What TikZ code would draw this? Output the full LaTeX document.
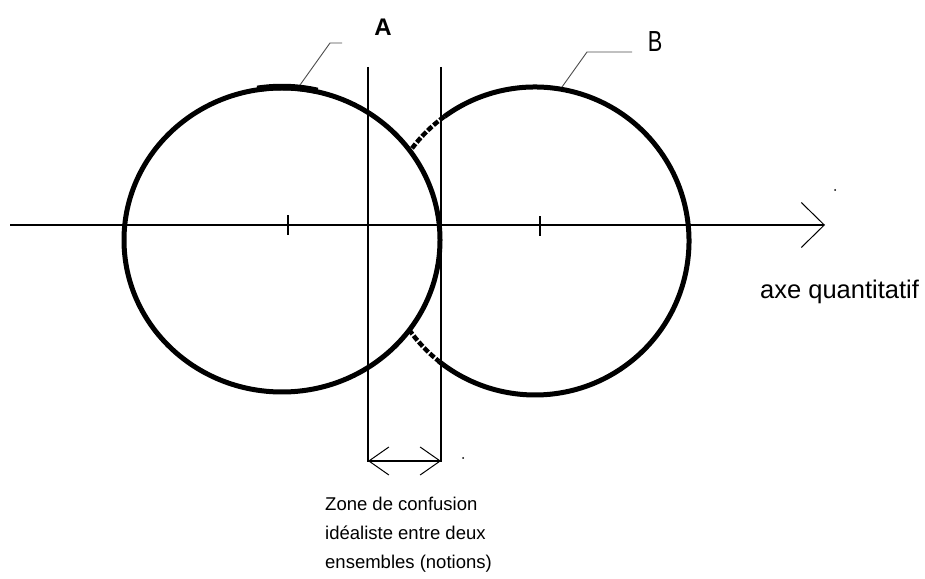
\documentclass[tikz,border=0pt]{standalone}
\usepackage{fontspec}
\setmainfont{Liberation Sans}
\usepackage{tikz}
\usetikzlibrary{arrows.meta,calc,backgrounds}
\pgfdeclarelayer{edgelayer}
\pgfdeclarelayer{nodelayer}
\pgfsetlayers{background,edgelayer,nodelayer,main}
\tikzstyle{none}=[inner sep=0mm]
\tikzstyle{ring}=[line width=5pt]
\tikzstyle{thin line}=[line width=1.1pt]
\tikzstyle{leader}=[line width=0.9pt,black!70]
\tikzstyle{axis}=[thin line,-{Straight Barb[length=23pt,width=45pt,line width=1pt]}]
\tikzstyle{span}=[thin line,{Straight Barb[length=20pt,width=28pt,line width=1pt]}-{Straight Barb[length=20pt,width=28pt,line width=1pt]}]
\tikzstyle{gap dash}=[line width=4.5pt,dash pattern=on 6pt off 2pt]
\tikzstyle{tag}=[inner sep=0mm,font=\fontsize{24}{26}\selectfont\bfseries]
\tikzstyle{caption}=[inner sep=0mm,align=left,font=\fontsize{18.5}{29}\selectfont]
\tikzstyle{speck}=[circle,fill=black,inner sep=0mm,minimum size=2pt]

\begin{document}
\begin{tikzpicture}[x=1pt,y=1pt]
	\useasboundingbox (0,0) rectangle (925,578);
	\begin{pgfonlayer}{nodelayer}
		\coordinate (cA) at (282, 338);
		\coordinate (cB) at (535, 337);
		\coordinate (tA) at (288, 353);
		\coordinate (tB) at (540, 353);
		\coordinate (ax0) at (10, 353);
		\coordinate (ax1) at (825, 353);
		\coordinate (vL0) at (368, 511);
		\coordinate (vL1) at (368, 116);
		\coordinate (vR0) at (441, 511);
		\coordinate (vR1) at (441, 116);
		\coordinate (sL) at (368, 117);
		\coordinate (sR) at (441, 117);
		\coordinate (pA) at (300, 493);
		\coordinate (kA) at (330, 535);
		\coordinate (eA) at (342, 535);
		\coordinate (pB) at (562, 491);
		\coordinate (kB) at (587, 526);
		\coordinate (eB) at (632, 526);
		\node [style=tag] (A) at (383, 551) {A};
		\node [style=tag,font=\fontsize{29}{30}\selectfont] (B) at (655, 536) {\scalebox{0.75}[1]{B}};
		\node [style=caption,anchor=base west,font=\fontsize{25.5}{28}\selectfont] (axe) at (760, 279) {axe quantitatif};
		\node [style=caption,anchor=north west] (zone) at (325, 81) {Zone de confusion\\id\'ealiste entre deux\\ensembles (notions)};
		\node [style=speck] (s1) at (835, 388) {};
		\node [style=speck] (s2) at (463, 120) {};
	\end{pgfonlayer}
	\begin{pgfonlayer}{edgelayer}
		\draw [style=axis] (ax0) to (ax1);
		\draw [thin line] ($(tA)+(0,-10)$) to ($(tA)+(0,10)$);
		\draw [thin line] ($(tB)+(0,-11)$) to ($(tB)+(0,9)$);
		\draw [thin line] (vL0) to (vL1);
		\draw [thin line] (vR0) to (vR1);
		\draw [style=span] (sL) to (sR);
		\draw [style=leader] (pA) to (kA) to (eA);
		\draw [style=leader] (pB) to (kB) to (eB);
		% A and B
		\draw [style=ring] (cA) ellipse [x radius=158pt, y radius=152pt];
		\draw [line width=6.5pt] (cA) ++(99:158pt and 153pt) arc [start angle=99, end angle=77, x radius=158pt, y radius=153pt];
		\draw [style=ring] (cB) ++(126:154pt) arc [start angle=126, end angle=-128.6, radius=154pt];
		\draw [style=gap dash] (cB) ++(126:154pt) arc [start angle=126, end angle=143, radius=154pt];
		\draw [style=gap dash] (cB) ++(215:154pt) arc [start angle=215, end angle=231.4, radius=154pt];
	\end{pgfonlayer}
\end{tikzpicture}
\end{document}
